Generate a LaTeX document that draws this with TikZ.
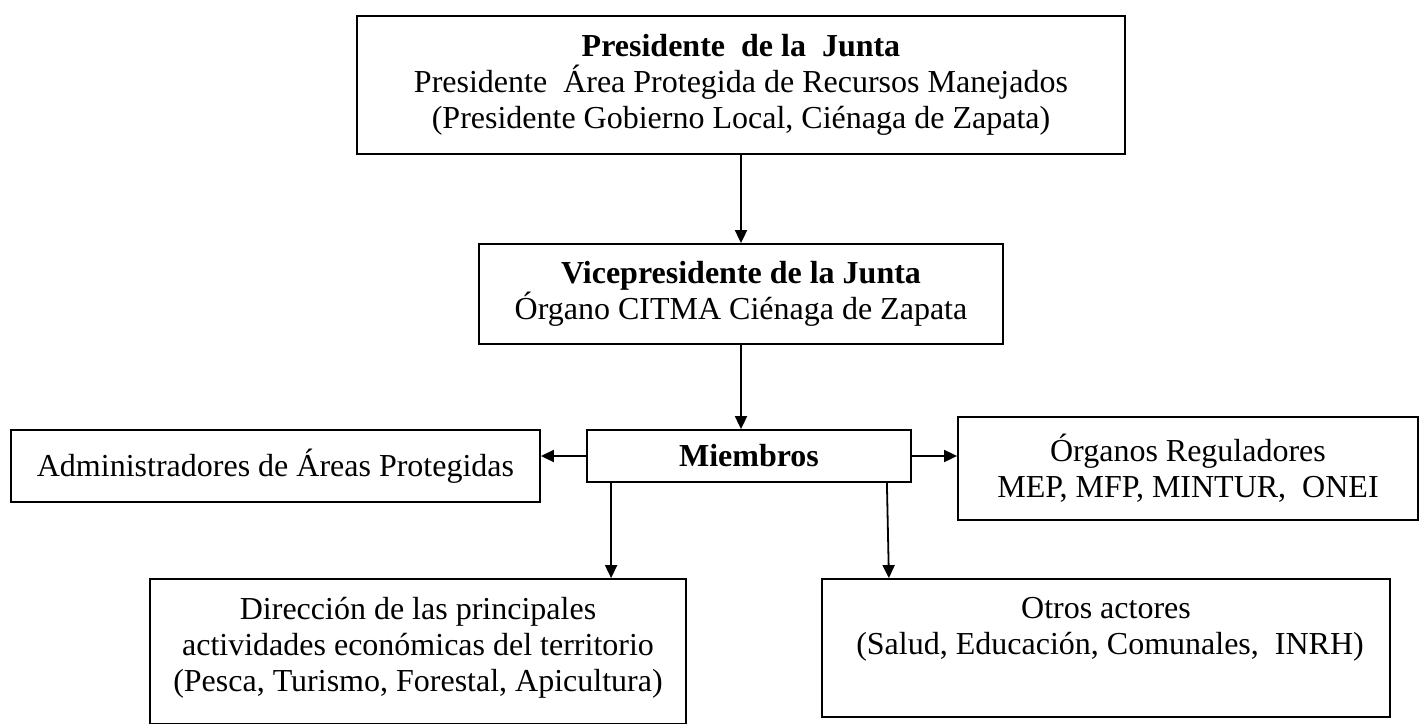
\documentclass[tikz,border=0pt]{standalone}
\usepackage{fontspec}
\setmainfont{Liberation Serif}
\usetikzlibrary{arrows.meta,calc}
\begin{document}
\begin{tikzpicture}[x=1pt,y=-1pt,
  box/.style={draw=black,line width=1.8pt,rectangle,inner sep=0pt,align=center,
    font=\fontsize{32}{36}\selectfont},
  arr/.style={draw=black,line width=1.8pt,-{Triangle[length=13pt,width=12pt]}}]
\fill[white] (0,0) rectangle (1421,723);
\useasboundingbox (0,0) rectangle (1421,723);

\node[box,minimum width=768pt,minimum height=138pt] (pres) at (741,85)
  {\textbf{Presidente~ de la~ Junta}\\Presidente~ Área Protegida de Recursos Manejados\\(Presidente Gobierno Local, Ciénaga de Zapata)};
\node[box,minimum width=524pt,minimum height=100pt] (vice) at (741,294)
  {\textbf{Vicepresidente de la Junta}\\Órgano CITMA Ciénaga de Zapata};
\node[box,minimum width=324pt,minimum height=52pt] (miem) at (749,456)
  {\textbf{Miembros}};
\node[box,minimum width=529pt,minimum height=72pt] (admin) at (275.5,466)
  {Administradores de Áreas Protegidas};
\node[box,minimum width=460pt,minimum height=103pt] (reg) at (1188,468.5)
  {Órganos Reguladores\\MEP, MFP, MINTUR,~ ONEI};
\node[box,minimum width=536pt,minimum height=145pt] (dir) at (418,651.5)
  {\parbox[c][145pt][t]{530pt}{\centering\vspace{18pt}Dirección de las principales\\actividades económicas del territorio\\(Pesca, Turismo, Forestal, Apicultura)}};
\node[box,minimum width=568pt,minimum height=138pt] (otros) at (1106,648)
  {\parbox[c][138pt][t]{560pt}{\centering\vspace{18pt}Otros actores\\~(Salud, Educación, Comunales,~ INRH)}};

\draw[arr] (pres.south) -- (pres.south |- vice.north);
\draw[arr] (vice.south) -- (vice.south |- miem.north);
\draw[arr] (miem.west) -- (miem.west -| admin.east);
\draw[arr] (miem.east) -- (miem.east -| reg.west);
\draw[arr] ([xshift=25pt]miem.south west) -- ([xshift=25pt]miem.south west |- dir.north);
\draw[arr] ([xshift=-25pt]miem.south east) -- ([xshift=-23pt]miem.south east |- otros.north);
\end{tikzpicture}
\end{document}
